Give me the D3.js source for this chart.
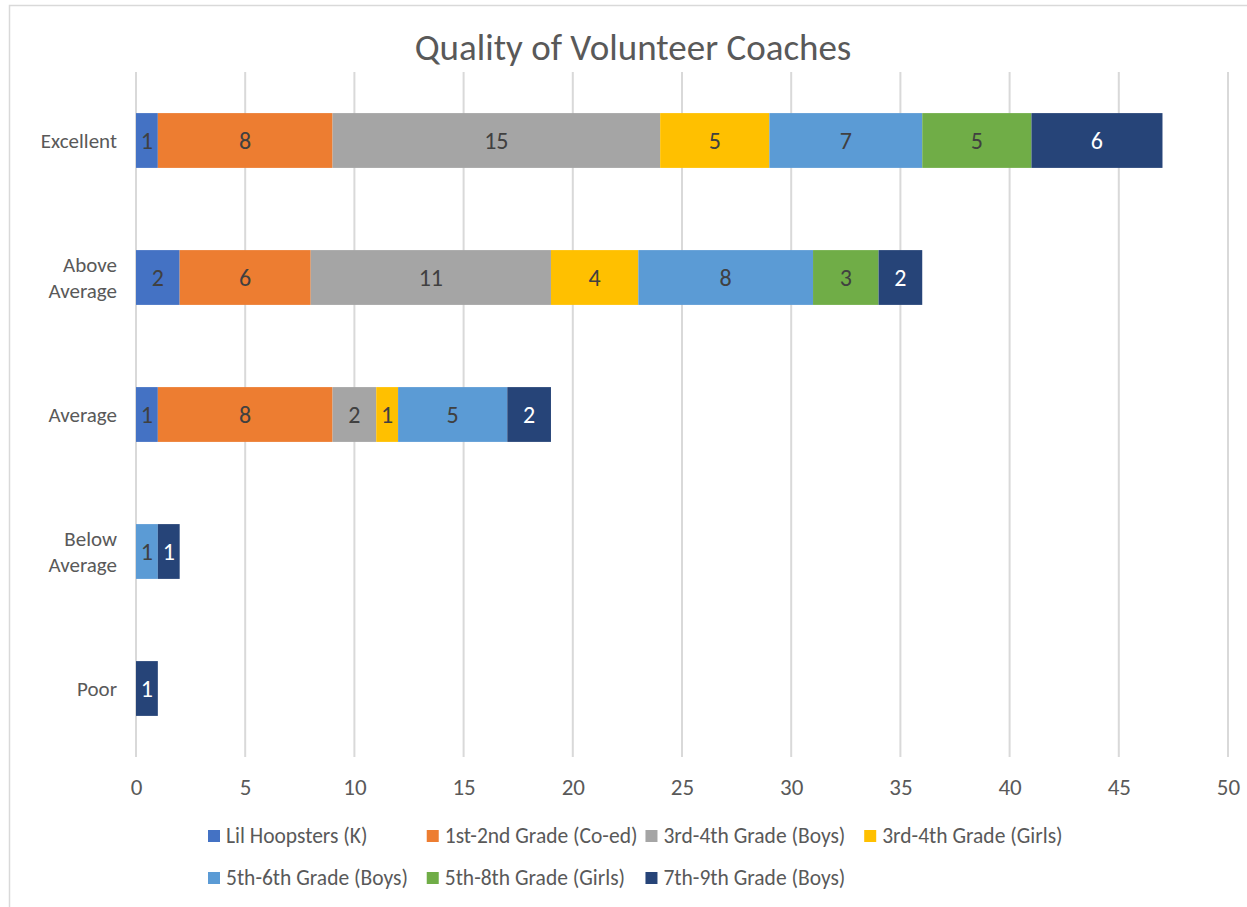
<!DOCTYPE html>
<html>
<head>
<meta charset="utf-8">
<script src="https://cdn.jsdelivr.net/npm/d3@7"></script>
<style>
  body { margin: 0; background: #fff; }
  text { font-family: Carlito, Calibri, Lato, "Noto Sans", sans-serif; }
</style>
</head>
<body>
<script>
// chart values
const categories = ['Excellent', 'Above Average', 'Average', 'Below Average', 'Poor'];
const seriesNames = ['Lil Hoopsters (K)', '1st-2nd Grade (Co-ed)', '3rd-4th Grade (Boys)', '3rd-4th Grade (Girls)',
                     '5th-6th Grade (Boys)', '5th-8th Grade (Girls)', '7th-9th Grade (Boys)'];
const lilHoopsters = [1, 2, 1, 0, 0];
const grade1_2 = [8, 6, 8, 0, 0];
const grade3_4Boys = [15, 11, 2, 0, 0];
const grade3_4Girls = [5, 4, 1, 0, 0];
const grade5_6Boys = [7, 8, 5, 1, 0];
const grade5_8Girls = [5, 3, 0, 0, 0];
const grade7_9Boys = [6, 2, 2, 1, 1];
const xTicks = [0, 5, 10, 15, 20, 25, 30, 35, 40, 45, 50];

const seriesVals = [lilHoopsters, grade1_2, grade3_4Boys, grade3_4Girls, grade5_6Boys, grade5_8Girls, grade7_9Boys];
const colors = ['#4472C4', '#ED7D31', '#A5A5A5', '#FFC000', '#5B9BD5', '#70AD47', '#264478'];

const W = 1247, H = 907;
const plot = {left: 136, right: 1228, top: 72, bottom: 757};
const FONT = 'Carlito, Calibri, Lato, "Noto Sans", sans-serif';

const svg = d3.select('body').append('svg')
    .attr('width', W)
    .attr('height', H);

// outer frame
svg.append('rect')
    .attr('x', 9.5).attr('y', 5.5)
    .attr('width', W).attr('height', H)
    .attr('fill', '#fff')
    .attr('stroke', '#d9d9d9')
    .attr('stroke-width', 1.5);

svg.append('text')
    .attr('x', 633).attr('y', 60)
    .attr('text-anchor', 'middle')
    .attr('font-size', 37)
    .attr('fill', '#595959')
    .text('Quality of Volunteer Coaches');

const x = d3.scaleLinear().domain([0, 50]).range([plot.left, plot.right]);
const y = d3.scaleBand().domain(categories).range([plot.top, plot.bottom]).paddingInner(0.6).paddingOuter(0.3);

// gridlines
svg.append('g').selectAll('line')
    .data(xTicks)
    .join('line')
    .attr('x1', d => x(d)).attr('x2', d => x(d))
    .attr('y1', plot.top).attr('y2', plot.bottom)
    .attr('stroke', '#d9d9d9')
    .attr('stroke-width', 2);

// x axis labels
const xAxis = d3.axisBottom(x).tickValues(xTicks).tickSize(0).tickPadding(22);
const gx = svg.append('g')
    .attr('transform', 'translate(0,' + plot.bottom + ')')
    .call(xAxis);
gx.select('.domain').remove();
gx.selectAll('text').attr('font-size', 23).attr('fill', '#595959')
    .style('font-family', FONT);

// category labels
const catG = svg.append('g');
categories.forEach(c => {
  const words = c.split(' ');
  const cy = y(c) + y.bandwidth() / 2;
  const t = catG.append('text')
      .attr('x', 117)
      .attr('text-anchor', 'end')
      .attr('font-size', 21)
      .attr('fill', '#595959');
  if (words.length === 1) {
    t.attr('y', cy + 7).text(c);
  } else {
    words.forEach((w, i) => {
      t.append('tspan').attr('x', 117).attr('y', cy - 6 + i * 26).text(w);
    });
  }
});

// stacked bars
const rows = categories.map((c, i) => {
  const r = {cat: c};
  seriesNames.forEach((s, j) => r[s] = seriesVals[j][i]);
  return r;
});
const stack = d3.stack().keys(seriesNames)(rows);

const barG = svg.append('g');
stack.forEach((layer, j) => {
  const g = barG.append('g');
  layer.forEach(seg => {
    const v = seg[1] - seg[0];
    if (v <= 0) return;
    g.append('rect')
        .attr('x', x(seg[0]))
        .attr('y', y(seg.data.cat))
        .attr('width', x(seg[1]) - x(seg[0]))
        .attr('height', y.bandwidth())
        .attr('fill', colors[j]);
    g.append('text')
        .attr('x', (x(seg[0]) + x(seg[1])) / 2)
        .attr('y', y(seg.data.cat) + y.bandwidth() / 2 + 8)
        .attr('text-anchor', 'middle')
        .attr('font-size', 24)
        .attr('fill', j === 6 ? '#fff' : '#404040')
        .text(v);
  });
});

// legend: grid of equal-width columns, 4 per row
const legG = svg.append('g');
const perRow = 4;
const items = seriesNames.map((n, j) => {
  const g = legG.append('g');
  g.append('rect')
      .attr('x', 0).attr('y', -6)
      .attr('width', 12).attr('height', 12)
      .attr('fill', colors[j]);
  const t = g.append('text')
      .attr('x', 18).attr('y', 7)
      .attr('font-size', 21.5)
      .attr('fill', '#595959')
      .text(n);
  return {g: g, w: t.node().getComputedTextLength()};
});
const colW = 18 + d3.max(items, d => d.w) + 8;
items.forEach((it, j) => {
  const col = j % perRow, row = Math.floor(j / perRow);
  it.g.attr('transform', 'translate(' + (208 + col * colW) + ',' + (836 + row * 42) + ')');
});
</script>
</body>
</html>
